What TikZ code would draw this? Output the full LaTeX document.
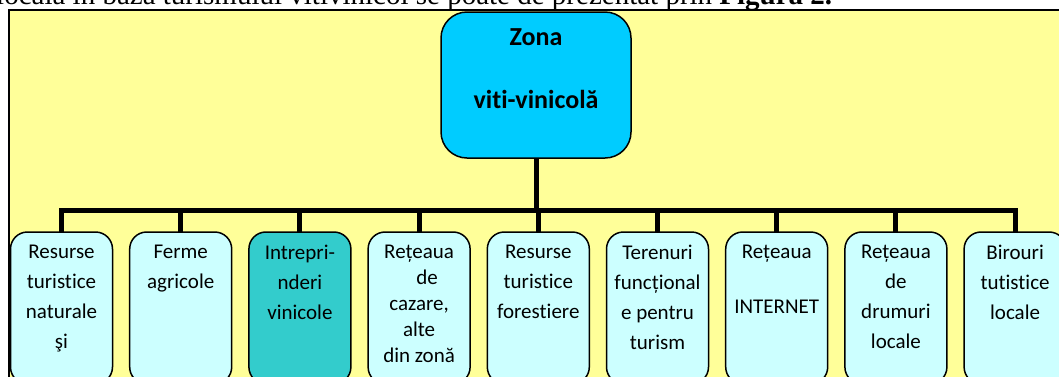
\documentclass[tikz,border=0pt]{standalone}
\usepackage{fontspec}
\setmainfont{Carlito}[Ligatures=NoCommon]
\newfontfamily\captionserif{Liberation Serif}
\usetikzlibrary{positioning}

\definecolor{panelyellow}{HTML}{FFFF99}
\definecolor{zonecyan}{HTML}{00CCFF}
\definecolor{leafcyan}{HTML}{CCFFFF}
\definecolor{leafteal}{HTML}{33CCCC}

\tikzset{
  zonebox/.style={draw=black, line width=1.5pt, fill=zonecyan, rounded corners=26pt,
    minimum width=190pt, minimum height=146pt, inner sep=0pt, outer sep=0pt},
  zonetext/.style={anchor=base, inner sep=0pt, font=\bfseries\fontsize{26}{30}\selectfont},
  leafbox/.style={draw=black, line width=1.5pt, fill=leafcyan, rounded corners=17pt,
    minimum width=102pt, minimum height=152pt, inner sep=0pt, outer sep=0pt, anchor=north},
  leaftext/.style={anchor=north, inner sep=0pt, align=center, font=\fontsize{21}{30}\selectfont},
  trunk/.style={line width=5pt, line join=miter}
}

\begin{document}
\begin{tikzpicture}[x=1pt, y=-1pt]
  \useasboundingbox (0,0) rectangle (1059,376);
  \clip (0,0) rectangle (1059,376);
  \fill[white] (0,0) rectangle (1059,376);

  % bottom of the sentence above the figure, cut by the page
  \node[anchor=base west, inner sep=0pt, font=\captionserif\fontsize{29}{30}\selectfont] (caption) at (-4,4.5)
    {locală în baza turismului vitivinicol se poate de prezentat prin \textbf{Figura 2.}};

  % yellow panel
  \draw[fill=panelyellow, line width=1.5pt] (9,10) rectangle (1090,400);

  % root
  \node[zonebox] (zona) at (536,85) {};
  \node[zonetext] (zonatop) at (536,45) {Zona};
  \node[zonetext] (zonabot) at (536,108) {viti-vinicolă};

  % leaves
  \node[leafbox] (b1) at (61.5,232) {};
  \node[leafbox, right=17.2pt of b1] (b2) {};
  \node[leafbox, fill=leafteal, right=17.2pt of b2] (b3) {};
  \node[leafbox, right=17.2pt of b3] (b4) {};
  \node[leafbox, right=17.2pt of b4] (b5) {};
  \node[leafbox, right=17.2pt of b5] (b6) {};
  \node[leafbox, right=17.2pt of b6] (b7) {};
  \node[leafbox, right=17.2pt of b7] (b8) {};
  \node[leafbox, right=17.2pt of b8] (b9) {};

  \node[leaftext] (t1) at ([yshift=-13pt]b1.north) {Resurse\\turistice\\naturale\\şi};
  \node[leaftext] (t2) at ([yshift=-13pt]b2.north) {Ferme\\agricole};
  \node[leaftext] (t3) at ([yshift=-13pt]b3.north) {Intrepri-\\nderi\\vinicole};
  \node[leaftext, font=\fontsize{21}{26}\selectfont] (t4) at ([yshift=-13pt]b4.north)
    {Rețeaua\\\hspace*{16pt}de\\cazare,\\alte\\din zonă};
  \node[leaftext] (t5) at ([yshift=-13pt]b5.north) {Resurse\\turistice\\forestiere};
  \node[leaftext] (t6) at ([yshift=-13pt]b6.north) {Terenuri\\funcțional\\e pentru\\turism};
  \node[leaftext] (t7) at ([yshift=-13pt]b7.north) {Rețeaua\\[25pt]INTERNET};
  \node[leaftext] (t8) at ([yshift=-13pt]b8.north) {Rețeaua\\de\\drumuri\\locale};
  \node[leaftext] (t9) at ([yshift=-13pt]b9.north) {Birouri\\tutistice\\locale};

  % connectors
  \coordinate (fork) at (538,210);
  \draw[trunk] (zona.south) -- (zona.south |- fork);
  \draw[trunk] (b1.north) |- (fork) -| (b9.north);
  \foreach \i in {2,...,8}
    \draw[trunk] (b\i.north) -- (b\i.north |- fork);
\end{tikzpicture}
\end{document}
